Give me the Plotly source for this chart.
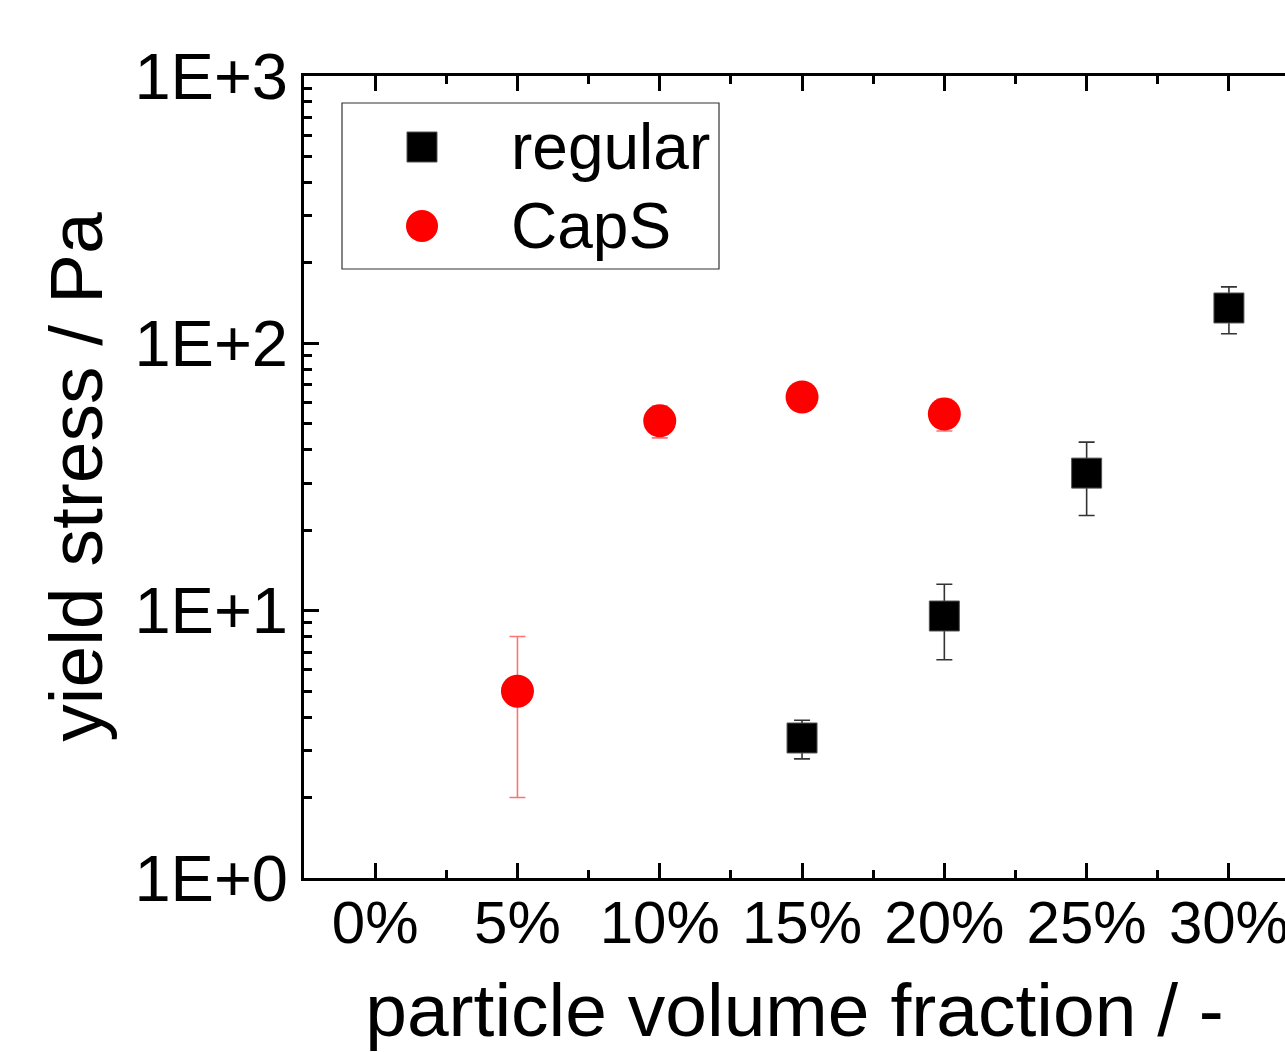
import plotly.graph_objects as go

# ---- data ----
regular_x = [0.15, 0.20, 0.25, 0.30]
regular_y = [3.34, 9.55, 32.7, 135.6]
regular_err = [0.55, 3.0, 10.0, 27.0]

caps_x = [0.05, 0.10, 0.15, 0.20]
caps_y = [5.0, 51.3, 63.0, 54.4]
caps_err = [3.0, 7.0, 3.0, 7.4]

x_tickvals = [0.0, 0.05, 0.10, 0.15, 0.20, 0.25, 0.30]
y_tickvals = [1, 10, 100, 1000]
y_ticktext = ["1E+0", "1E+1", "1E+2", "1E+3"]
y_minor = [m * d for d in (1, 10, 100) for m in range(2, 10)]

legend_labels = ["regular", "CapS"]

# ---- layout geometry (body margin removed by post_script) ----
W, H = 1285, 1052
L, R, T, B = 304, 0, 76, 174
PW, PH = W - L - R, H - T - B


def px2paper(px, py):
    return (px - L) / PW, (H - B - py) / PH


FONT = "Liberation Sans, Arial, sans-serif"

fig = go.Figure()

fig.add_trace(go.Scatter(
    x=regular_x, y=regular_y, mode="markers", name=legend_labels[0],
    marker=dict(symbol="square", size=30, color="black",
                line=dict(color="#555555", width=1)),
    error_y=dict(type="data", array=regular_err, visible=True,
                 color="#333333", thickness=1.6, width=8),
    showlegend=False,
))
fig.add_trace(go.Scatter(
    x=caps_x, y=caps_y, mode="markers", name=legend_labels[1],
    marker=dict(symbol="circle", size=33, color="#ff0000",
                line=dict(width=0)),
    error_y=dict(type="data", array=caps_err, visible=True,
                 color="rgba(255,0,0,0.55)", thickness=1.6, width=8),
    showlegend=False,
))

# invisible trace to drive the top axis
fig.add_trace(go.Scatter(x=[0.0], y=[1], xaxis="x2", mode="markers",
                         marker=dict(opacity=0), showlegend=False,
                         hoverinfo="skip"))

xr = [-0.025, 0.3197]

fig.update_layout(
    width=W, height=H,
    margin=dict(l=L, r=R, t=T, b=B, autoexpand=False),
    paper_bgcolor="white", plot_bgcolor="white",
    font=dict(family=FONT, color="black", size=60),
    xaxis=dict(
        range=xr, showgrid=False, zeroline=False,
        showline=True, linecolor="black", linewidth=3,
        ticks="inside", ticklen=15, tickwidth=2.5, tickcolor="black",
        tickmode="array", tickvals=x_tickvals, tickformat=".0%",
        tickfont=dict(size=60, family=FONT),
        ticklabeloverflow="allow", ticklabelstandoff=-10,
        minor=dict(ticks="inside", ticklen=8, tickwidth=2.5,
                   tickcolor="black", dtick=0.025, tick0=0.0),
        title=dict(text="particle volume fraction / -",
                   font=dict(size=75, family=FONT), standoff=36),
        automargin=False,
    ),
    xaxis2=dict(
        range=xr, overlaying="x", side="top", showgrid=False,
        zeroline=False, showline=True, linecolor="black", linewidth=3,
        ticks="inside", ticklen=15, tickwidth=2.5, tickcolor="black",
        tickmode="array", tickvals=x_tickvals, showticklabels=False,
        minor=dict(ticks="inside", ticklen=8, tickwidth=2.5,
                   tickcolor="black", dtick=0.025, tick0=0.0),
        automargin=False,
    ),
    yaxis=dict(
        type="log", range=[0, 3], showgrid=False, zeroline=False,
        showline=True, linecolor="black", linewidth=3,
        ticks="inside", ticklen=15, tickwidth=2.5, tickcolor="black",
        tickmode="array", tickvals=y_tickvals, ticktext=y_ticktext,
        tickfont=dict(size=65, family=FONT),
        minor=dict(ticks="inside", ticklen=8, tickwidth=2.5,
                   tickcolor="black", tickmode="array", tickvals=y_minor),
        title=dict(text="yield stress / Pa",
                   font=dict(size=75, family=FONT), standoff=8),
        automargin=False,
    ),
)

# ---- manual legend (large symbols) ----
bx0, by0 = px2paper(342, 103)
bx1, by1 = px2paper(719, 269)
fig.add_shape(type="rect", xref="paper", yref="paper",
              x0=bx0, y0=by1, x1=bx1, y1=by0,
              line=dict(color="#333333", width=1.2), fillcolor="white",
              layer="above")

sx, sy = px2paper(422, 147)
hx, hy = 15 / PW, 15 / PH
fig.add_shape(type="rect", xref="paper", yref="paper",
              x0=sx - hx, x1=sx + hx, y0=sy - hy, y1=sy + hy,
              fillcolor="black", line=dict(color="#555555", width=1),
              layer="above")
cx, cy = px2paper(422, 226)
rx, ry = 16 / PW, 16 / PH
fig.add_shape(type="circle", xref="paper", yref="paper",
              x0=cx - rx, x1=cx + rx, y0=cy - ry, y1=cy + ry,
              fillcolor="#ff0000", line=dict(width=0), layer="above")

tx, _ = px2paper(509, 0)
for label, py in zip(legend_labels, (147, 226)):
    _, ty = px2paper(0, py)
    fig.add_annotation(x=tx, y=ty, xref="paper", yref="paper",
                       text=label, showarrow=False, xanchor="left",
                       yanchor="middle", font=dict(size=64, family=FONT))

fig.write_html(
    "out.html",
    config={"displayModeBar": False},
    post_script="document.body.style.margin='0';"
                "document.body.style.overflow='hidden';",
)
